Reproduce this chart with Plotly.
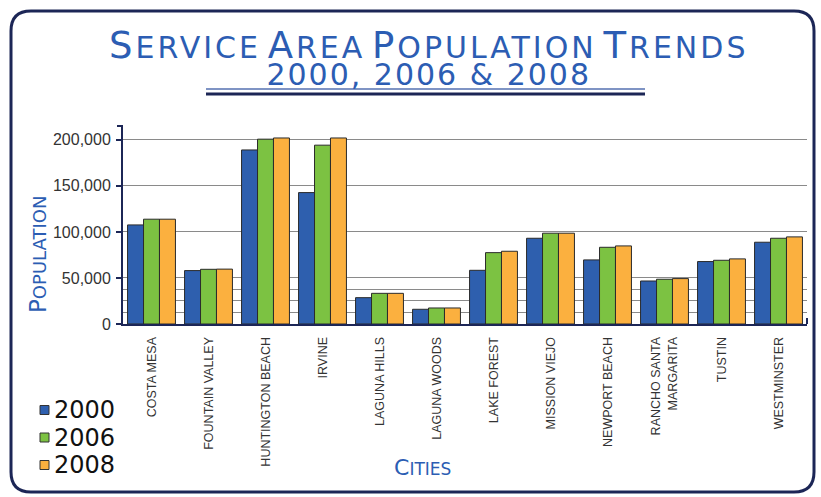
import plotly.graph_objects as go

# ---- data -------------------------------------------------------------
cities = ["COSTA MESA", "FOUNTAIN VALLEY", "HUNTINGTON BEACH", "IRVINE",
          "LAGUNA HILLS", "LAGUNA WOODS", "LAKE FOREST", "MISSION VIEJO",
          "NEWPORT BEACH", "RANCHO SANTA<br>MARGARITA", "TUSTIN", "WESTMINSTER"]
pop_2000 = [107600, 58000, 189000, 142700, 28600, 16000, 58300, 93100, 69600, 46700, 67800, 88800]
pop_2006 = [113800, 59400, 200700, 194200, 33300, 17400, 77500, 98600, 83300, 48600, 69200, 93100]
pop_2008 = [113800, 59600, 202000, 202000, 33300, 17400, 79000, 98600, 84800, 49300, 70700, 94600]
years = ["2000", "2006", "2008"]
y_ticks = [0, 50000, 100000, 150000, 200000]
y_minor = [12500, 25000, 37500]

# ---- figure geometry (pixels) ----------------------------------------
W, H = 821, 497
PL, PR, PT, PB = 123, 807, 126, 324   # plot area box


def px(x):
    return (x - PL) / (PR - PL)


def py(y):
    return (PB - y) / (PB - PT)


NAVY = "#1c2656"
TITLE_BLUE = "#2c5db3"
HEAD_FONT = "DejaVu Sans"
colors = ["#2e5fae", "#7cc242", "#fbb03f"]
series = [pop_2000, pop_2006, pop_2008]

fig = go.Figure()
for name, vals, col in zip(years, series, colors):
    fig.add_trace(go.Bar(
        x=cities, y=vals, name=name,
        marker=dict(color=col, line=dict(color="#2b2b2b", width=1)),
    ))


def small_caps(text, big, sm, spacing=0):
    ls = f";letter-spacing:{spacing}px" if spacing else ""
    out = []
    for word in text.split(" "):
        out.append(f"<span style='font-size:{big}px{ls}'>{word[0]}</span>"
                   f"<span style='font-size:{sm}px{ls}'>{word[1:]}</span>")
    return " ".join(out)


heading = (small_caps("SERVICE AREA POPULATION TRENDS", 37, 30, 3)
           + "<br><span style='font-size:30px;letter-spacing:2px'>2000, 2006 &amp; 2008</span>")

annotations = [
    dict(text=heading, x=px(428), y=py(58),
         xref="paper", yref="paper", showarrow=False, xanchor="center", yanchor="middle",
         font=dict(family=HEAD_FONT, size=21, color=TITLE_BLUE)),
    dict(text=small_caps("POPULATION", 23, 18), x=px(38), y=py(255),
         xref="paper", yref="paper", showarrow=False, textangle=-90,
         xanchor="center", yanchor="middle",
         font=dict(family=HEAD_FONT, size=23, color=TITLE_BLUE)),
    dict(text=small_caps("CITIES", 22, 17), x=px(422), y=py(467),
         xref="paper", yref="paper", showarrow=False, xanchor="center", yanchor="middle",
         font=dict(family=HEAD_FONT, size=22, color=TITLE_BLUE)),
]

# rounded frame around the whole chart
x0, x1, y0, y1, r = 11, 814, 11, 492, 20
frame = (f"M {px(x0)},{py(y0 + r)} Q {px(x0)},{py(y0)} {px(x0 + r)},{py(y0)} "
         f"L {px(x1 - r)},{py(y0)} Q {px(x1)},{py(y0)} {px(x1)},{py(y0 + r)} "
         f"L {px(x1)},{py(y1 - r)} Q {px(x1)},{py(y1)} {px(x1 - r)},{py(y1)} "
         f"L {px(x0 + r)},{py(y1)} Q {px(x0)},{py(y1)} {px(x0)},{py(y1 - r)} Z")

shapes = [
    dict(type="path", path=frame, xref="paper", yref="paper",
         line=dict(color=NAVY, width=3), layer="below"),
    # double rule under the subtitle
    dict(type="line", xref="paper", yref="paper", x0=px(206), x1=px(645), y0=py(89), y1=py(89),
         line=dict(color="#5570b0", width=1.5)),
    dict(type="line", xref="paper", yref="paper", x0=px(206), x1=px(645), y0=py(94), y1=py(94),
         line=dict(color=NAVY, width=3)),
    # axis end ticks
    dict(type="line", xref="paper", yref="paper", x0=px(117), x1=px(PL), y0=1, y1=1,
         line=dict(color=NAVY, width=2)),
    dict(type="line", xref="paper", yref="paper", x0=1, x1=1, y0=0, y1=py(318),
         line=dict(color=NAVY, width=2)),
]

# legend: small swatch squares with the year beside each
for i, (name, col) in enumerate(zip(years, colors)):
    cy = 410 + i * 27.5
    shapes.append(dict(type="rect", xref="paper", yref="paper",
                       x0=px(40), x1=px(49), y0=py(cy - 4.5), y1=py(cy + 4.5),
                       fillcolor=col, line=dict(color="#333333", width=1)))
    annotations.append(dict(text=name, x=px(52), y=py(cy), xref="paper", yref="paper",
                            showarrow=False, xanchor="left", yanchor="middle",
                            font=dict(family=HEAD_FONT, size=24, color="#111111")))

fig.update_layout(
    width=W, height=H,
    margin=dict(l=PL, r=W - PR, t=PT, b=H - PB, autoexpand=False),
    paper_bgcolor="white", plot_bgcolor="white",
    barmode="group", bargap=0.16, bargroupgap=0,
    font=dict(family="Liberation Sans, Arial", color="#333333"),
    showlegend=False,
    annotations=annotations,
    shapes=shapes,
    xaxis=dict(tickangle=-90, tickfont=dict(size=12.5, color="#333333"),
               showline=True, linecolor=NAVY, linewidth=2, ticks="",
               showgrid=False, ticklabelstandoff=6, automargin=False),
    yaxis=dict(range=[0, 215000], tickvals=y_ticks, tickformat=",d",
               tickfont=dict(size=16, color="#333333"),
               showline=True, linecolor=NAVY, linewidth=2,
               ticks="outside", ticklen=5, tickcolor=NAVY, tickwidth=2,
               showgrid=True, gridcolor="#8a8a8a", gridwidth=1,
               minor=dict(tickvals=y_minor, showgrid=True, gridcolor="#8a8a8a",
                          gridwidth=1, ticks=""),
               zeroline=False, ticklabelstandoff=2, automargin=False),
)

fig.write_html("out.html")
